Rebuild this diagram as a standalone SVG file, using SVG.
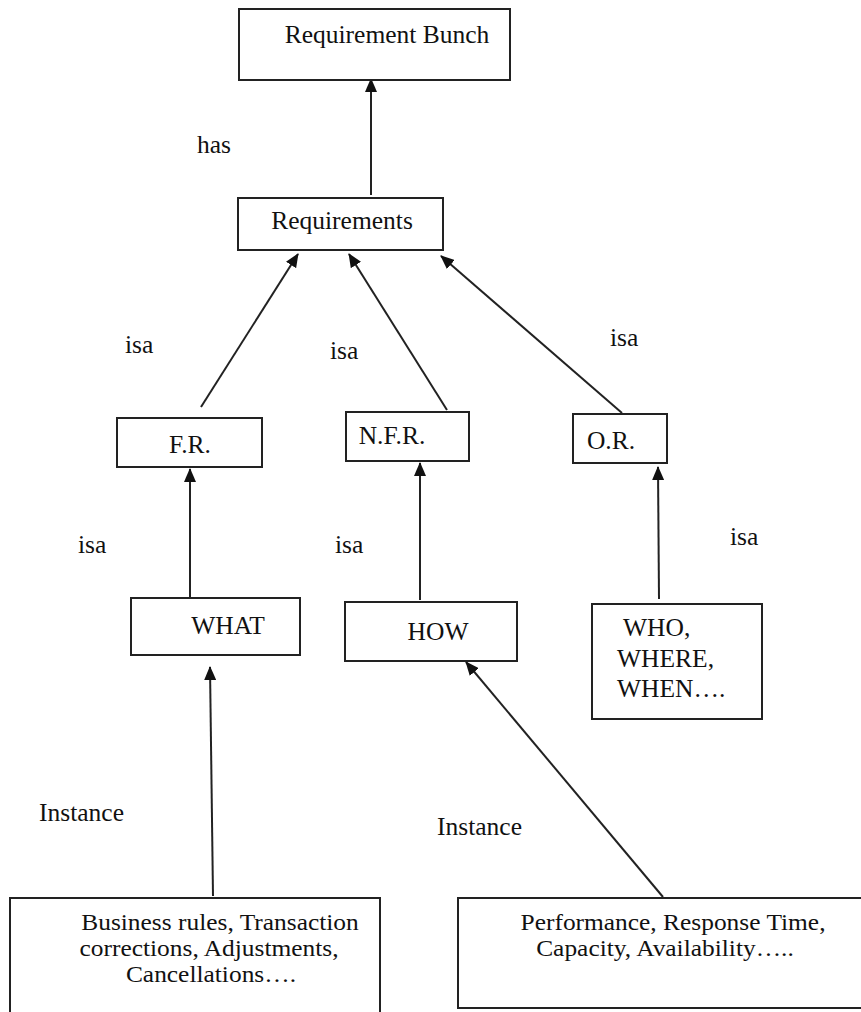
<svg xmlns="http://www.w3.org/2000/svg" width="861" height="1012" viewBox="0 0 861 1012">
<defs>
<style>
.box{fill:#fff;stroke:#222;stroke-width:2}
.t{font-family:"Liberation Serif","Times New Roman",serif;font-size:25.5px;fill:#111}
.s{font-family:"Liberation Serif","Times New Roman",serif;font-size:22.5px;fill:#111;text-anchor:middle}
.c{text-anchor:middle}
.ln{stroke:#222;stroke-width:2;fill:none;marker-end:url(#ah)}
</style>
<marker id="ah" markerUnits="userSpaceOnUse" markerWidth="14" markerHeight="12" refX="13" refY="6" orient="auto">
<path d="M0,0 L14,6 L0,12 Z" fill="#111"/>
</marker>
</defs>
<rect width="861" height="1012" fill="#fff"/>
<g id="connectors">
<line class="ln" x1="371" y1="195" x2="371" y2="79"/>
<line class="ln" x1="201" y1="407" x2="298" y2="254"/>
<line class="ln" x1="447" y1="410" x2="349" y2="254"/>
<line class="ln" x1="622" y1="413" x2="441" y2="256"/>
<line class="ln" x1="190" y1="597" x2="190" y2="469"/>
<line class="ln" x1="420" y1="600" x2="420" y2="463"/>
<line class="ln" x1="659" y1="599" x2="658" y2="467"/>
<line class="ln" x1="213" y1="896" x2="210" y2="667"/>
<line class="ln" x1="663" y1="897" x2="466" y2="662"/>
</g>
<g id="labels">
<text class="t" x="197" y="153">has</text>
<text class="t" x="125" y="353">isa</text>
<text class="t" x="330" y="359">isa</text>
<text class="t" x="610" y="346">isa</text>
<text class="t" x="78" y="553">isa</text>
<text class="t" x="335" y="553">isa</text>
<text class="t" x="730" y="545">isa</text>
<text class="t" x="39" y="821">Instance</text>
<text class="t" x="437" y="835">Instance</text>
</g>
<g id="n-bunch">
<rect class="box" x="239" y="9" width="271" height="71"/>
<text class="t c" x="387" y="43">Requirement Bunch</text>
</g>
<g id="n-req">
<rect class="box" x="238" y="198" width="205" height="52"/>
<text class="t c" x="342" y="229">Requirements</text>
</g>
<g id="n-fr">
<rect class="box" x="117" y="418" width="145" height="49"/>
<text class="t c" x="190" y="453">F.R.</text>
</g>
<g id="n-nfr">
<rect class="box" x="346" y="412" width="123" height="49"/>
<text class="t c" x="392" y="444">N.F.R.</text>
</g>
<g id="n-or">
<rect class="box" x="573" y="414" width="94" height="49"/>
<text class="t c" x="611" y="449">O.R.</text>
</g>
<g id="n-what">
<rect class="box" x="131" y="598" width="169" height="57"/>
<text class="t c" x="228" y="634">WHAT</text>
</g>
<g id="n-how">
<rect class="box" x="345" y="602" width="172" height="59"/>
<text class="t c" x="438" y="640">HOW</text>
</g>
<g id="n-who">
<rect class="box" x="592" y="604" width="170" height="115"/>
<text class="t" x="623" y="636">WHO,</text>
<text class="t" x="617" y="667">WHERE,</text>
<text class="t" x="617" y="697">WHEN….</text>
</g>
<g id="n-business">
<rect class="box" x="10" y="898" width="370" height="120"/>
<g transform="scale(1.13,1)">
<text class="s" x="194.7" y="930">Business rules, Transaction</text>
<text class="s" x="185" y="956">corrections, Adjustments,</text>
<text class="s" x="186.7" y="982">Cancellations….</text>
</g>
</g>
<g id="n-performance">
<rect class="box" x="458" y="898" width="420" height="110"/>
<g transform="scale(1.13,1)">
<text class="s" x="595.6" y="930">Performance, Response Time,</text>
<text class="s" x="588.5" y="956">Capacity, Availability…..</text>
</g>
</g>
</svg>
